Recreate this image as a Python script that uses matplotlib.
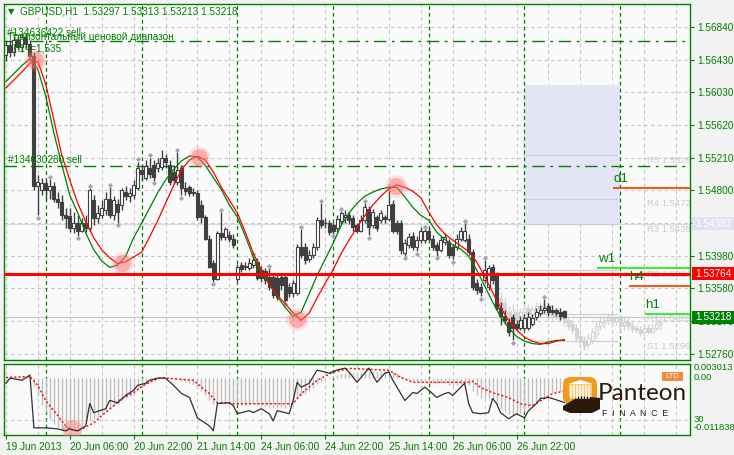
import numpy as np
import matplotlib
matplotlib.use("Agg")
import matplotlib.pyplot as plt
from matplotlib.patches import Rectangle, FancyBboxPatch, Ellipse, Polygon

plt.rcParams['font.family'] = ['Liberation Sans', 'DejaVu Sans']

# ---------------- data ----------------
symbol_title = "GBPUSD,H1  1.53297 1.53313 1.53213 1.53218"
bar_idx = np.arange(-10, 131)          # hourly bars, 0 = 20 Jun 00:00

opens = [1.5649, 1.5662, 1.5653, 1.5668, 1.5659, 1.5671, 1.5663, 1.5648, 1.5486, 1.5481,
         1.5489, 1.5481, 1.5486, 1.5470, 1.5466, 1.5450, 1.5448, 1.5433, 1.5440, 1.5430,
         1.5440, 1.5433, 1.5468, 1.5446, 1.5449, 1.5456, 1.5470, 1.5450, 1.5463, 1.5462,
         1.5478, 1.5473, 1.5474, 1.5483, 1.5506, 1.5496, 1.5508, 1.5512, 1.5508, 1.5509,
         1.5521, 1.5512, 1.5503, 1.5491, 1.5508, 1.5483, 1.5484, 1.5478, 1.5477, 1.5462,
         1.5447, 1.5420, 1.5389, 1.5369, 1.5427, 1.5422, 1.5424, 1.5420, 1.5369, 1.5387,
         1.5384, 1.5383, 1.5387, 1.5391, 1.5381, 1.5379, 1.5372, 1.5372, 1.5371, 1.5372,
         1.5372, 1.5359, 1.5352, 1.5352, 1.5409, 1.5409, 1.5394, 1.5399, 1.5409, 1.5443,
         1.5439, 1.5439, 1.5437, 1.5433, 1.5442, 1.5447, 1.5449, 1.5446, 1.5437, 1.5430,
         1.5443, 1.5457, 1.5437, 1.5447, 1.5443, 1.5447, 1.5444, 1.5463, 1.5439, 1.5439,
         1.5402, 1.5412, 1.5423, 1.5409, 1.5418, 1.5418, 1.5429, 1.5420, 1.5412, 1.5406,
         1.5416, 1.5416, 1.5409, 1.5409, 1.5420, 1.5418, 1.5420, 1.5403, 1.5364, 1.5359,
         1.5368, 1.5359, 1.5384, 1.5374, 1.5334, 1.5324, 1.5316, 1.5322, 1.5314, 1.5309,
         1.5309, 1.5308, 1.5314, 1.5322, 1.5327, 1.5331, 1.5336, 1.5331, 1.5331, 1.5329,
         1.53297]
highs = [1.5666, 1.5668, 1.5673, 1.5674, 1.5677, 1.5677, 1.5668, 1.5653, 1.5499, 1.5496,
         1.5493, 1.5494, 1.5491, 1.5478, 1.5474, 1.5458, 1.5458, 1.5453, 1.5449, 1.5446,
         1.5449, 1.5483, 1.5474, 1.5462, 1.5468, 1.5478, 1.5484, 1.5473, 1.5470, 1.5483,
         1.5486, 1.5483, 1.5493, 1.5516, 1.5512, 1.5518, 1.5521, 1.5518, 1.5521, 1.5531,
         1.5526, 1.5518, 1.5512, 1.5528, 1.5512, 1.5491, 1.5487, 1.5483, 1.5481, 1.5468,
         1.5450, 1.5424, 1.5393, 1.5430, 1.5453, 1.5435, 1.5430, 1.5426, 1.5388, 1.5391,
         1.5391, 1.5396, 1.5398, 1.5396, 1.5386, 1.5383, 1.5383, 1.5376, 1.5374, 1.5377,
         1.5376, 1.5364, 1.5368, 1.5413, 1.5432, 1.5414, 1.5406, 1.5414, 1.5447, 1.5464,
         1.5446, 1.5443, 1.5440, 1.5449, 1.5454, 1.5456, 1.5453, 1.5450, 1.5440, 1.5449,
         1.5464, 1.5461, 1.5457, 1.5450, 1.5456, 1.5450, 1.5481, 1.5468, 1.5443, 1.5443,
         1.5420, 1.5427, 1.5428, 1.5423, 1.5434, 1.5432, 1.5433, 1.5424, 1.5416, 1.5423,
         1.5427, 1.5420, 1.5413, 1.5426, 1.5434, 1.5439, 1.5426, 1.5407, 1.5369, 1.5364,
         1.5393, 1.5387, 1.5388, 1.5378, 1.5341, 1.5331, 1.5321, 1.5326, 1.5318, 1.5323,
         1.5326, 1.5328, 1.5326, 1.5334, 1.5337, 1.5344, 1.5339, 1.5337, 1.5334, 1.5333,
         1.53313]
lows = [1.5641, 1.5646, 1.5648, 1.5656, 1.5653, 1.5658, 1.5643, 1.5481, 1.5449, 1.5474,
        1.5468, 1.5470, 1.5466, 1.5458, 1.5443, 1.5433, 1.5428, 1.5427, 1.5423, 1.5428,
        1.5428, 1.5430, 1.5437, 1.5440, 1.5446, 1.5449, 1.5446, 1.5443, 1.5440, 1.5456,
        1.5468, 1.5466, 1.5470, 1.5481, 1.5493, 1.5493, 1.5496, 1.5492, 1.5503, 1.5506,
        1.5508, 1.5487, 1.5488, 1.5487, 1.5474, 1.5474, 1.5473, 1.5473, 1.5443, 1.5440,
        1.5418, 1.5383, 1.5366, 1.5368, 1.5418, 1.5418, 1.5416, 1.5408, 1.5367, 1.5378,
        1.5381, 1.5381, 1.5383, 1.5368, 1.5366, 1.5363, 1.5356, 1.5346, 1.5343, 1.5356,
        1.5341, 1.5347, 1.5347, 1.5349, 1.5396, 1.5388, 1.5391, 1.5396, 1.5406, 1.5433,
        1.5433, 1.5424, 1.5426, 1.5428, 1.5438, 1.5440, 1.5438, 1.5430, 1.5427, 1.5428,
        1.5440, 1.5424, 1.5433, 1.5429, 1.5439, 1.5440, 1.5442, 1.5427, 1.5426, 1.5401,
        1.5398, 1.5408, 1.5406, 1.5404, 1.5414, 1.5414, 1.5417, 1.5406, 1.5398, 1.5403,
        1.5412, 1.5396, 1.5394, 1.5406, 1.5417, 1.5416, 1.5399, 1.5356, 1.5351, 1.5348,
        1.5364, 1.5356, 1.5363, 1.5331, 1.5312, 1.5313, 1.5298, 1.5293, 1.5306, 1.5306,
        1.5306, 1.5306, 1.5311, 1.5318, 1.5323, 1.5327, 1.5324, 1.5326, 1.5323, 1.5319,
        1.53213]
closes = [1.5662, 1.5653, 1.5668, 1.5659, 1.5671, 1.5663, 1.5648, 1.5486, 1.5491, 1.5489,
          1.5481, 1.5486, 1.5470, 1.5466, 1.5450, 1.5446, 1.5433, 1.5440, 1.5430, 1.5440,
          1.5433, 1.5481, 1.5446, 1.5452, 1.5458, 1.5470, 1.5450, 1.5468, 1.5453, 1.5481,
          1.5473, 1.5477, 1.5487, 1.5508, 1.5501, 1.5510, 1.5501, 1.5497, 1.5514, 1.5521,
          1.5516, 1.5491, 1.5493, 1.5506, 1.5483, 1.5479, 1.5477, 1.5477, 1.5447, 1.5447,
          1.5420, 1.5385, 1.5369, 1.5427, 1.5422, 1.5432, 1.5420, 1.5412, 1.5384, 1.5382,
          1.5386, 1.5389, 1.5393, 1.5371, 1.5371, 1.5368, 1.5359, 1.5349, 1.5347, 1.5362,
          1.5343, 1.5352, 1.5364, 1.5409, 1.5399, 1.5393, 1.5399, 1.5409, 1.5443, 1.5437,
          1.5440, 1.5428, 1.5430, 1.5444, 1.5452, 1.5449, 1.5443, 1.5434, 1.5430, 1.5443,
          1.5459, 1.5434, 1.5453, 1.5433, 1.5452, 1.5444, 1.5462, 1.5430, 1.5430, 1.5406,
          1.5414, 1.5422, 1.5409, 1.5418, 1.5430, 1.5430, 1.5420, 1.5409, 1.5406, 1.5418,
          1.5422, 1.5399, 1.5399, 1.5420, 1.5430, 1.5430, 1.5403, 1.5359, 1.5356, 1.5353,
          1.5381, 1.5383, 1.5368, 1.5334, 1.5324, 1.5318, 1.5303, 1.5309, 1.5309, 1.5318,
          1.5321, 1.5322, 1.5321, 1.5328, 1.5331, 1.5334, 1.5328, 1.5329, 1.5327, 1.5324,
          1.53218]

# faint projected candles on the right
ghost_idx = np.arange(113, 155)
ghost_open = [1.5362, 1.5346, 1.5339, 1.5328, 1.5323, 1.5328, 1.5321, 1.5328, 1.5333, 1.5326,
              1.5332, 1.5336, 1.5331, 1.5336, 1.5328, 1.5323, 1.5328, 1.5321, 1.5318, 1.5313,
              1.5308, 1.5298, 1.5293, 1.5288, 1.5293, 1.5301, 1.5311, 1.5316, 1.5318, 1.5321,
              1.5317, 1.5321, 1.5312, 1.5316, 1.5311, 1.5308, 1.5307, 1.5303, 1.5308, 1.5304,
              1.5309, 1.5313]
ghost_close = [1.5343, 1.5337, 1.5328, 1.5321, 1.5331, 1.5318, 1.5328, 1.5333, 1.5326, 1.5332,
               1.5336, 1.5329, 1.5336, 1.5328, 1.5323, 1.5328, 1.5321, 1.5316, 1.5311, 1.5306,
               1.5296, 1.5291, 1.5286, 1.5296, 1.5303, 1.5311, 1.5316, 1.5318, 1.5321, 1.5316,
               1.5321, 1.5311, 1.5316, 1.5311, 1.5307, 1.5306, 1.5302, 1.5308, 1.5304, 1.5309,
               1.5314, 1.5316]
ghost_high = [1.5368, 1.5353, 1.5346, 1.5336, 1.5338, 1.5333, 1.5333, 1.5339, 1.5338, 1.5337,
              1.5341, 1.5341, 1.5343, 1.5341, 1.5333, 1.5333, 1.5333, 1.5326, 1.5323, 1.5318,
              1.5313, 1.5306, 1.5298, 1.5301, 1.5308, 1.5318, 1.5323, 1.5324, 1.5326, 1.5326,
              1.5324, 1.5326, 1.5321, 1.5321, 1.5316, 1.5312, 1.5311, 1.5312, 1.5313, 1.5313,
              1.5321, 1.5321]
ghost_low = [1.5337, 1.5331, 1.5323, 1.5316, 1.5318, 1.5313, 1.5316, 1.5323, 1.5321, 1.5321,
             1.5328, 1.5326, 1.5326, 1.5323, 1.5318, 1.5318, 1.5316, 1.5311, 1.5306, 1.5301,
             1.5291, 1.5284, 1.5281, 1.5283, 1.5288, 1.5296, 1.5306, 1.5309, 1.5313, 1.5311,
             1.5312, 1.5303, 1.5306, 1.5306, 1.5303, 1.5302, 1.5298, 1.5298, 1.5301, 1.5302,
             1.5306, 1.5306]

# two moving averages, sampled every second bar
ma_idx = np.arange(-10, 131, 2)
ma_green = [1.5616, 1.5626, 1.5636, 1.5644, 1.5631, 1.5597, 1.5552, 1.5512, 1.5474, 1.5452,
            1.5427, 1.5406, 1.5392, 1.5384, 1.5387, 1.5398, 1.5421, 1.5439, 1.5458, 1.5477,
            1.5493, 1.5506, 1.5517, 1.5523, 1.5522, 1.5511, 1.5496, 1.5481, 1.5462, 1.5447,
            1.5423, 1.5397, 1.5378, 1.5363, 1.5348, 1.5334, 1.5323, 1.5328, 1.5351, 1.5374,
            1.5394, 1.5414, 1.5436, 1.5452, 1.5464, 1.5473, 1.5478, 1.5482, 1.5484, 1.5484,
            1.5472, 1.5459, 1.5449, 1.5443, 1.5428, 1.5419, 1.5412, 1.5407, 1.5398, 1.5381,
            1.5361, 1.5341, 1.5322, 1.5309, 1.5298, 1.5292, 1.5289, 1.5288, 1.5291, 1.5293,
            1.5293]
ma_red = [1.5608, 1.5618, 1.5628, 1.5639, 1.5641, 1.5612, 1.5568, 1.5524, 1.5493, 1.5464,
          1.5441, 1.5421, 1.5406, 1.5396, 1.5389, 1.5391, 1.5397, 1.5403, 1.5422, 1.5442,
          1.5464, 1.5486, 1.5506, 1.5518, 1.5523, 1.5518, 1.5503, 1.5484, 1.5468, 1.5452,
          1.5428, 1.5402, 1.5381, 1.5364, 1.5349, 1.5339, 1.5327, 1.5318, 1.5327, 1.5346,
          1.5364, 1.5381, 1.5401, 1.5418, 1.5434, 1.5449, 1.5462, 1.5473, 1.5482, 1.5487,
          1.5484, 1.5479, 1.5471, 1.5453, 1.5437, 1.5426, 1.5418, 1.5411, 1.5404, 1.5391,
          1.5373, 1.5353, 1.5334, 1.5318, 1.5306, 1.5297, 1.5292, 1.5289, 1.5289, 1.5292,
          1.5294]

cross_idx = [-2.75, 19, 38.5, 63, 87.75]
cross_price = [1.5643, 1.5389, 1.5522, 1.5320, 1.5486]

frac_up = [-8, 1, 11, 16, 23, 26, 33, 44, 52, 56, 64, 69, 74, 80, 86, 95, 105, 110, 125]
frac_dn = [-2, 8, 18, 27, 34, 42, 60, 72, 81, 90, 93, 98, 102, 109, 117]

price_ticks = [1.52760, 1.53170, 1.53580, 1.53980, 1.54390, 1.54800,
               1.55210, 1.55620, 1.56030, 1.56430, 1.56840]
time_tick_idx = [-10, 6, 22, 38, 54, 70, 86, 102, 118]
time_tick_lbl = ["19 Jun 2013", "20 Jun 06:00", "20 Jun 22:00", "21 Jun 14:00",
                 "24 Jun 06:00", "24 Jun 22:00", "25 Jun 14:00", "26 Jun 06:00",
                 "26 Jun 22:00"]
day_sep_idx = [0, 24, 48, 72, 96, 120, 144]

support_level = 1.53764
bid_level = 1.53218
box_level = 1.54387
sell_134630280 = 1.5511
sell_134636422 = 1.5667
zone_idx = (120, 144)
zone_price = (1.54387, 1.5612)

pivot_vals = [1.5524, 1.5470, 1.5438, 1.5381, 1.5326, 1.5292]
pivot_lbls = ["R5 1.5526", "R4 1.5472", "R3 1.5438", "R2 1.5384", "R1 1.5326", "S1 1.5296"]

tf_names = ["d1", "w1", "h4", "h1"]
tf_levels = [1.5483, 1.5383, 1.5361, 1.5326]
tf_start = [142.25, 138.25, 146.25, 150.25]
tf_colors = ['#ff4500', '#22ee22', '#ff4500', '#22ee22']

# MACD(5,34,5) main histogram (x 0.001) and signal, RSI(14)
macd_main = [-0.2, -0.1, 0.1, 0.2, 0.3, 0.3, 0.4, -1.6, -3.6, -5.5,
             -7.0, -8.5, -9.5, -10.2, -10.5, -10.6, -10.5, -10.4, -10.2, -9.9,
             -9.6, -8.9, -8.5, -8.0, -7.5, -6.9, -6.5, -5.8, -5.4, -4.8,
             -4.2, -3.7, -3.0, -2.2, -1.7, -1.2, -0.8, -0.5, -0.2, 0.0,
             0.1, -0.1, -0.2, -0.2, -0.5, -0.8, -1.0, -1.2, -2.0, -2.6,
             -3.4, -4.5, -5.4, -5.2, -5.1, -5.0, -5.0, -5.1, -5.6, -5.6,
             -5.5, -5.4, -5.3, -5.5, -5.6, -5.7, -5.9, -6.1, -6.2, -6.0,
             -6.1, -5.8, -5.4, -4.4, -3.7, -3.2, -2.6, -2.0, -1.2, -0.6,
             -0.1, 0.2, 0.4, 0.7, 1.0, 1.2, 1.3, 1.2, 1.2, 1.3,
             1.6, 1.4, 1.6, 1.4, 1.5, 1.5, 1.8, 1.4, 1.1, 0.5,
             -0.2, -0.4, -0.6, -0.8, -0.7, -0.6, -0.7, -0.9, -1.1, -1.0,
             -1.0, -1.3, -1.5, -1.3, -1.1, -1.0, -1.4, -2.6, -3.4, -4.0,
             -4.0, -4.1, -4.4, -5.4, -6.3, -6.9, -7.5, -7.7, -7.6, -7.3,
             -6.8, -6.2, -5.6, -5.0, -4.5, -3.9, -3.4, -3.1, -2.9, -2.7,
             -2.595]
sig_idx = [-10, -4, -2, 0, 3, 5, 7, 9, 12, 14, 17, 19, 22, 24, 27, 29, 31, 37, 41, 43,
           47, 62, 64, 68, 72, 76, 81, 86, 89, 92, 97, 102, 106, 107, 109, 112, 116, 119,
           122, 124, 127, 130]
sig_val = [0.2, 0.4, -1.5, -4.7, -7.8, -10.0, -11.0, -10.6, -9.3, -7.8, -5.7, -4.2, -3.0,
           -1.7, -0.4, 0.2, 0.0, -0.4, -3.2, -5.1, -5.3, -5.3, -3.2, -0.4, 1.3, 2.1, 1.9,
           1.7, 0.2, -0.8, -0.8, -0.8, -0.8, -0.6, -1.9, -3.0, -4.0, -5.3, -5.7, -4.7,
           -3.2, -2.639]
rsi_idx = [-10, -9, -6, -4, -3, 0, 3, 5, 6, 8, 10, 11, 12, 15, 16, 18, 20, 22, 23, 25,
           26, 28, 30, 32, 34, 36, 38, 41, 42, 43, 46, 47, 48, 51, 52, 54, 56, 57, 58, 61,
           62, 63, 64, 66, 68, 71, 73, 75, 76, 78, 81, 82, 83, 85, 86, 87, 90, 92, 93, 95,
           96, 98, 100, 101, 102, 104, 105, 106, 107, 109, 111, 112, 113, 114, 116, 118,
           120, 121, 123, 124, 126, 127, 130]
rsi_val = [46.8, 49.2, 48.2, 50.6, 26.3, 26.3, 25.8, 24.9, 25.8, 24.9, 27.2, 37.5, 33.3,
           35.1, 38.9, 37.9, 41.2, 43.6, 45.9, 46.8, 48.2, 49.2, 49.2, 45.9, 42.1, 40.3,
           30.9, 27.2, 24.9, 37.5, 37.9, 36.5, 32.8, 34.2, 33.3, 35.1, 32.8, 29.5, 34.2,
           32.8, 38.9, 47.3, 45.0, 46.8, 52.9, 51.5, 52.9, 53.8, 52.0, 47.3, 53.8, 50.6,
           47.3, 51.5, 52.0, 48.2, 38.9, 42.6, 42.1, 45.0, 43.6, 40.3, 42.1, 42.6, 41.2,
           45.0, 46.8, 37.5, 33.3, 32.8, 33.3, 39.8, 37.5, 33.3, 30.5, 32.8, 30.9, 34.2,
           37.5, 39.8, 40.3, 39.8, 37.9459]

# ---------------- figure ----------------
W, H = 734, 455
GREEN = '#008000'
GRID = '#c4c4c4'
BG = '#fafafa'

fig = plt.figure(figsize=(W / 100, H / 100), dpi=100)
fig.patch.set_facecolor('#f2f2f2')


def px_axes(x0, y0, x1, y1):
    return fig.add_axes([x0 / W, 1 - y1 / H, (x1 - x0) / W, (y1 - y0) / H])


def fy(y):
    return 1 - y / H


ax = px_axes(4, 4, 690, 360)
axi = px_axes(4, 364, 690, 435)
XL = (-10.5, 161.5)

for a in (ax, axi):
    a.set_facecolor(BG)
    a.set_xlim(*XL)
    for s in a.spines.values():
        s.set_color(GREEN)
        s.set_linewidth(1)
    for gx in np.arange(-10, 162, 8):
        a.axvline(gx, color=GRID, lw=0.8, ls=(0, (3, 3)), zorder=0)
    for dx in day_sep_idx:
        a.axvline(dx, color=GREEN, lw=0.9, ls=(0, (3, 2.5)), zorder=1)

# --- main chart
ax.set_ylim(1.52685, 1.57127)
for p in price_ticks:
    ax.axhline(p, color=GRID, lw=0.8, ls=(0, (3, 3)), zorder=0)
ax.set_yticks(price_ticks)
# the 1.54390 label sits under the zone price box, as in the terminal
ax.set_yticklabels(["" if abs(p - 1.5439) < 1e-6 else "%.5f" % p for p in price_ticks])
ax.yaxis.tick_right()
ax.tick_params(axis='y', colors=GREEN, length=3, labelsize=7.2, pad=2, width=0.8)
ax.set_xticks([])

# zone rectangle and faint level line
ax.add_patch(Rectangle((zone_idx[0], zone_price[0]), zone_idx[1] - zone_idx[0],
                       zone_price[1] - zone_price[0], facecolor='#e3e5f7',
                       edgecolor='none', zorder=0.5))
ax.axhline(box_level, color='#d6d8f0', lw=0.9, zorder=0.6)
ax.axhline(bid_level, color='#c8c8c8', lw=0.9, zorder=0.6)

# pivot lines
for v, lbl in zip(pivot_vals, pivot_lbls):
    ax.plot([120, 143.25], [v, v], color='#cfcfcf', lw=0.9, zorder=0.7)
    ax.text(150.8, v - 0.00005, lbl, color='#cccccc', fontsize=6.8, va='top', ha='left',
            zorder=0.7)

# ghost candles
go, gc = np.array(ghost_open), np.array(ghost_close)
ax.vlines(ghost_idx, ghost_low, ghost_high, color='#d4d4d4', lw=1, zorder=1)
gbot = np.minimum(go, gc)
gh = np.maximum(np.abs(gc - go), 0.00004)
gup = gc >= go
ax.bar(ghost_idx[gup], gh[gup], bottom=gbot[gup], width=0.75, color='#f4f4f4',
       edgecolor='#d4d4d4', lw=0.7, zorder=1.1)
ax.bar(ghost_idx[~gup], gh[~gup], bottom=gbot[~gup], width=0.75, color='#d4d4d4',
       edgecolor='#d4d4d4', lw=0.7, zorder=1.1)

# horizontal order / level lines
ax.axhline(sell_134630280, color=GREEN, lw=1.0, ls=(0, (9, 4, 2, 4)), zorder=1.5)
ax.axhline(sell_134636422, color=GREEN, lw=1.0, ls=(0, (9, 4, 2, 4)), zorder=1.5)
ax.axhline(support_level, color='#ff0000', lw=2.2, zorder=3)

# real candles
o, c = np.array(opens), np.array(closes)
hi, lo = np.array(highs), np.array(lows)
ax.vlines(bar_idx, lo, hi, color='#404040', lw=1, zorder=2)
bot = np.minimum(o, c)
bh = np.maximum(np.abs(c - o), 0.00004)
up = c >= o
ax.bar(bar_idx[up], bh[up], bottom=bot[up], width=0.75, color='white',
       edgecolor='#404040', lw=0.8, zorder=2.1)
ax.bar(bar_idx[~up], bh[~up], bottom=bot[~up], width=0.75, color='#404040',
       edgecolor='#404040', lw=0.8, zorder=2.1)

# fractals
ax.scatter(frac_up, hi[np.array(frac_up) + 10] + 0.00028, marker='D', s=7,
           color='#a6a6a6', zorder=2.2, linewidths=0)
ax.scatter(frac_dn, lo[np.array(frac_dn) + 10] - 0.00028, marker='D', s=7,
           color='#a6a6a6', zorder=2.2, linewidths=0)

# moving averages
ax.plot(ma_idx, ma_green, color='#008000', lw=0.9, zorder=2.5)
ax.plot(ma_idx, ma_red, color='#ff0000', lw=0.9, zorder=2.5)

# crossing markers
ax.scatter(cross_idx, cross_price, s=260, color='#ff7070', alpha=0.18, linewidths=0,
           zorder=2.6)
ax.scatter(cross_idx, cross_price, s=150, color='#ff7070', alpha=0.45, linewidths=0,
           zorder=2.6)

# timeframe levels on the right
for name, lv, st, col in zip(tf_names, tf_levels, tf_start, tf_colors):
    ax.plot([st, XL[1]], [lv, lv], color=col, lw=1.3, zorder=3.2, solid_capstyle='butt')
    ax.text(st + 0.1, lv + 0.00035, name, color=GREEN, fontsize=9.5, ha='left',
            va='bottom', zorder=3.3)

# texts in the chart
ax.text(-9.5, sell_134630280 + 0.0001, "#134630280 sell", color=GREEN, fontsize=7.2,
        va='bottom', ha='left', zorder=4)
ax.text(-9.8, sell_134636422 + 0.0003, "#134636422 sell", color=GREEN, fontsize=7.2,
        va='bottom', ha='left', zorder=4)
ax.text(-9.2, sell_134636422 - 0.0002, "Горизонтальный ценовой диапазон", color=GREEN,
        fontsize=7.2, va='bottom', ha='left', zorder=4)
ax.text(-8.5, sell_134636422 - 0.0016, "Н1ч=1,535", color=GREEN,
        fontsize=7.2, va='bottom', ha='left', zorder=4)
fig.text(8 / W, fy(12), "\u25BC", color=GREEN, fontsize=6,
         family=['DejaVu Sans'], va='center', ha='left')
fig.text(20 / W, fy(12), symbol_title, color=GREEN, fontsize=7.2, va='center', ha='left')

# price boxes on the axis
for lv, fc in [(box_level, '#dfe1f5'), (support_level, '#ff0000'), (bid_level, '#008000')]:
    yc = 354 - (lv - 1.5276) * 8015
    fig.add_artist(Rectangle((692 / W, fy(yc + 6.5)), 42 / W, 13 / H,
                             transform=fig.transFigure, facecolor=fc, edgecolor='none'))
    fig.text(695 / W, fy(yc), "%.5f" % lv, color='white', fontsize=7.2, va='center',
             ha='left')

# --- indicator panel
axi.set_ylim(-0.011838, 0.003013)
axi.vlines(bar_idx, 0, np.array(macd_main) / 1000, color='#bdbdbd', lw=1, zorder=1)
axi.plot(sig_idx, np.array(sig_val) / 1000, color='#ff0000', lw=1, ls=(0, (1.5, 1.5)),
         zorder=3)
axi.scatter([6.5], [-0.0106], s=200, color='#ff7070', alpha=0.45, linewidths=0, zorder=4)
axi.set_yticks([])
axr = axi.twinx()
axr.set_ylim(23.0, 55.7)
axr.axhline(30, color=GRID, lw=0.8, ls=(0, (3, 3)), zorder=0)
axr.plot(rsi_idx, rsi_val, color='#303030', lw=0.9, zorder=3)
axr.set_yticks([])
for s in axr.spines.values():
    s.set_visible(False)

axi.set_xticks(time_tick_idx)
axi.set_xticklabels(time_tick_lbl)
axi.tick_params(axis='x', colors=GREEN, length=3, labelsize=7.2, pad=2, width=0.8)
for t in axi.get_xticklabels():
    t.set_ha('left')

for yy, lbl in [(368, "0.003013"), (377, "0.00"), (419, "30"), (428, "-0.011838")]:
    fig.text(694 / W, fy(yy), lbl, color=GREEN, fontsize=6.8, va='center', ha='left')

# --- logo
lg = fig.add_axes([560 / W, fy(420), 130 / W, 52 / H])
lg.set_xlim(560, 690)
lg.set_ylim(420, 368)
lg.axis('off')
lg.patch.set_alpha(0)
lg.add_patch(FancyBboxPatch((563, 377), 34, 28, boxstyle="round,pad=0,rounding_size=8",
                            facecolor='#f39a1e', edgecolor='none'))
lg.add_patch(Rectangle((569, 384), 23, 13, facecolor='#fcc978', edgecolor='none'))
lg.add_patch(Polygon([(568, 384), (580.5, 380), (593, 384)], closed=True,
                     facecolor='white', edgecolor='none'))
for px in np.arange(571, 592, 3):
    lg.plot([px, px], [386, 398], color='white', lw=1.1)
lg.add_patch(Polygon([(563, 406), (580, 396), (600, 398), (600, 409), (592, 413),
                      (570, 413), (563, 410)], closed=True, facecolor='#2a1a0c',
                     edgecolor='none'))
lg.text(598, 393, "Panteon", fontsize=17.5, color='#2a1a0c', va='center', ha='left',
        family=['Lato', 'DejaVu Sans'])
lg.text(602, 414, "F  I  N  A  N  C  E", fontsize=6.3, color='#2a1a0c', va='center',
        ha='left')
lg.add_patch(Rectangle((662, 372), 21, 9, facecolor='#f08a3c', edgecolor='none'))
lg.text(672.5, 376.7, "LTD", fontsize=5.5, color='white', va='center', ha='center')

fig.savefig("out.png", dpi=100, facecolor=fig.get_facecolor())
